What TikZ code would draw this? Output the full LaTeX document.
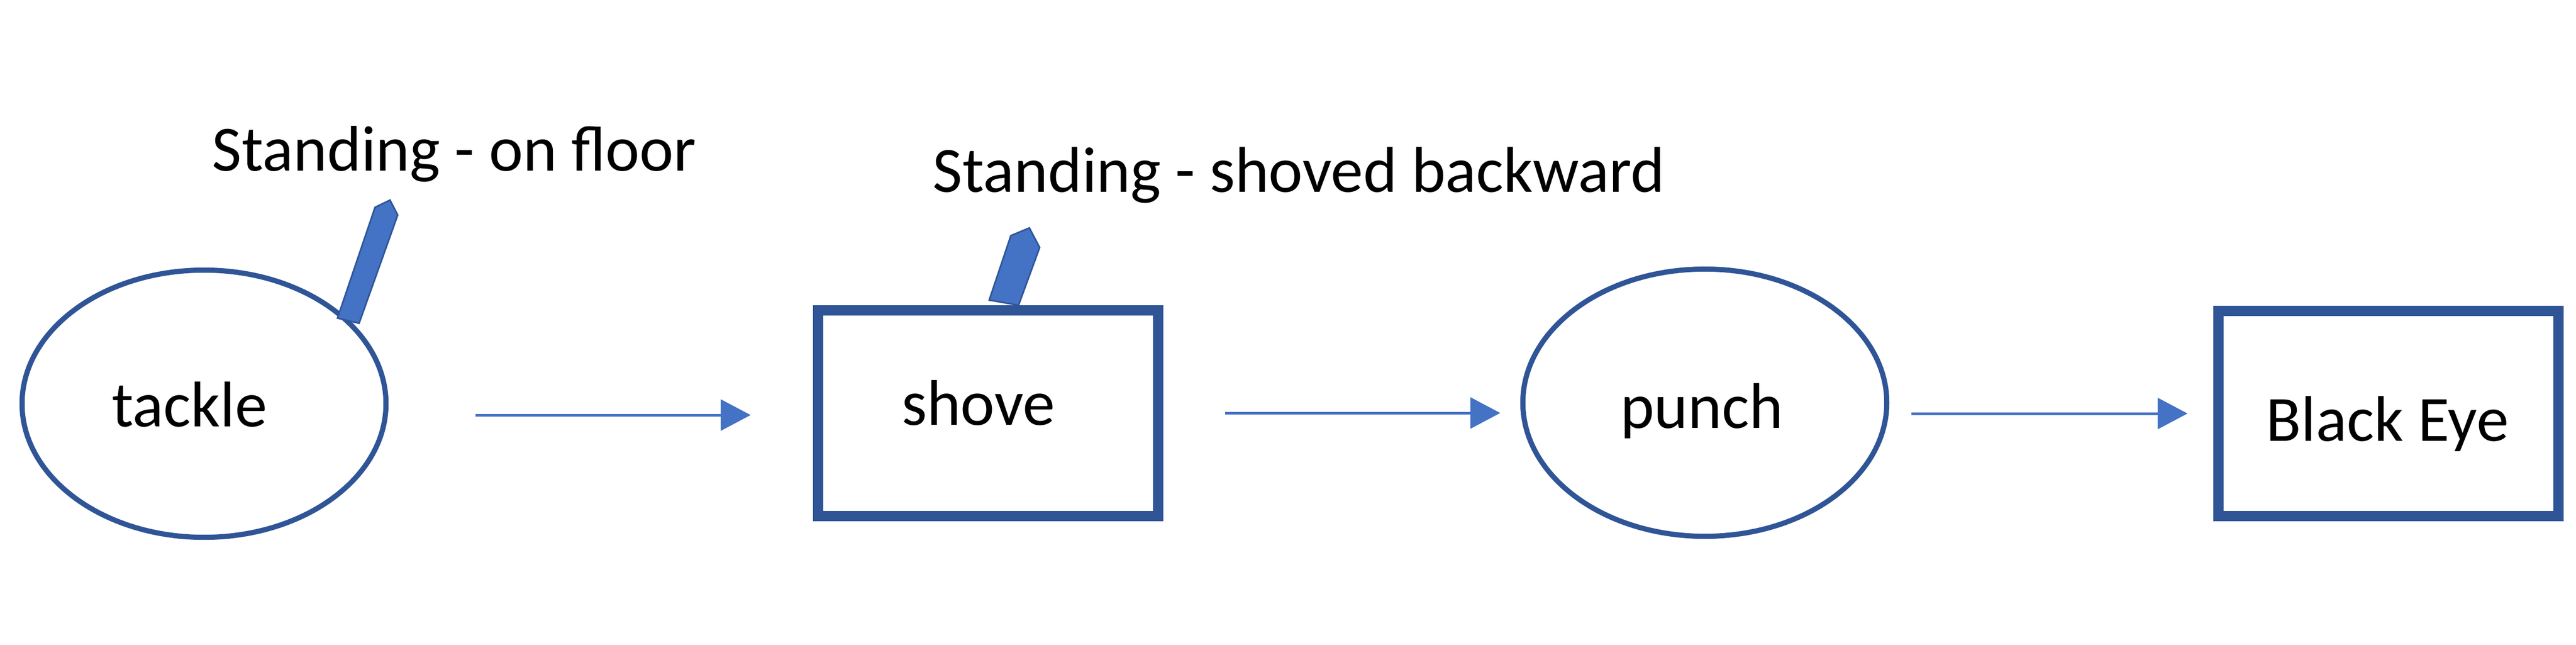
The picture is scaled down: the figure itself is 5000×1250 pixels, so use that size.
\documentclass[tikz,border=0pt]{standalone}
\usepackage{fontspec}
\setmainfont{Carlito}
\usetikzlibrary{arrows.meta,shapes.geometric}
\definecolor{outl}{HTML}{2F5597}
\definecolor{acc}{HTML}{4472C4}
\begin{document}
\begin{tikzpicture}[x=0.01cm,y=-0.01cm,
  oval/.style={ellipse, draw=outl, line width=0.1cm, minimum width=7.06cm, minimum height=5.18cm, inner sep=0pt},
  boxnode/.style={rectangle, draw=outl, line width=0.2cm, minimum width=6.6cm, minimum height=3.98cm, inner sep=0pt},
  txt/.style={anchor=base, inner sep=0pt, font=\fontsize{35.6pt}{43pt}\selectfont},
  ctxt/.style={anchor=base west, inner sep=0pt, font=\fontsize{35.6pt}{43pt}\selectfont},
  conn/.style={draw=acc, line width=0.05cm, -{Triangle[length=5.8mm,width=6mm]}},
  pointer/.style={fill=acc, draw=outl, line width=0.03cm, line join=miter}
]
\useasboundingbox[fill=white] (0,0) rectangle (5000,1250);

% shapes
\node[oval] (tackle) at (396,783) {};
\node[boxnode] (shove) at (1918,801.5) {};
\node[oval] (punch) at (3309,781) {};
\node[boxnode] (blackeye) at (4636,802) {};

% labels in shapes
\node[txt] (tackle-t) at (368,827) {tackle};
\node[txt] (shove-t) at (1899,824) {shove};
\node[txt] (punch-t) at (3303,830) {punch};
\node[txt] (blackeye-t) at (4634,855) {Black Eye};

% callout texts
\node[ctxt] (c1) at (411,331) {Standing - on floor};
\node[ctxt] (c2) at (1810,372) {Standing - shoved backward};

% callout pointers
\draw[pointer] (655,617) -- (697,627) -- (772,417) -- (757,388) -- (728,402) -- cycle;
\draw[pointer] (1920,582) -- (1977,592) -- (2018,480) -- (1998,442) -- (1962,457) -- cycle;

% connectors
\coordinate (a1s) at (923,805);
\coordinate (a1e) at (1457,805);
\coordinate (a2s) at (2378,801);
\coordinate (a2e) at (2912,801);
\coordinate (a3s) at (3710,802);
\coordinate (a3e) at (4246,802);
\draw[conn] (a1s) -- (a1e);
\draw[conn] (a2s) -- (a2e);
\draw[conn] (a3s) -- (a3e);
\end{tikzpicture}
\end{document}
